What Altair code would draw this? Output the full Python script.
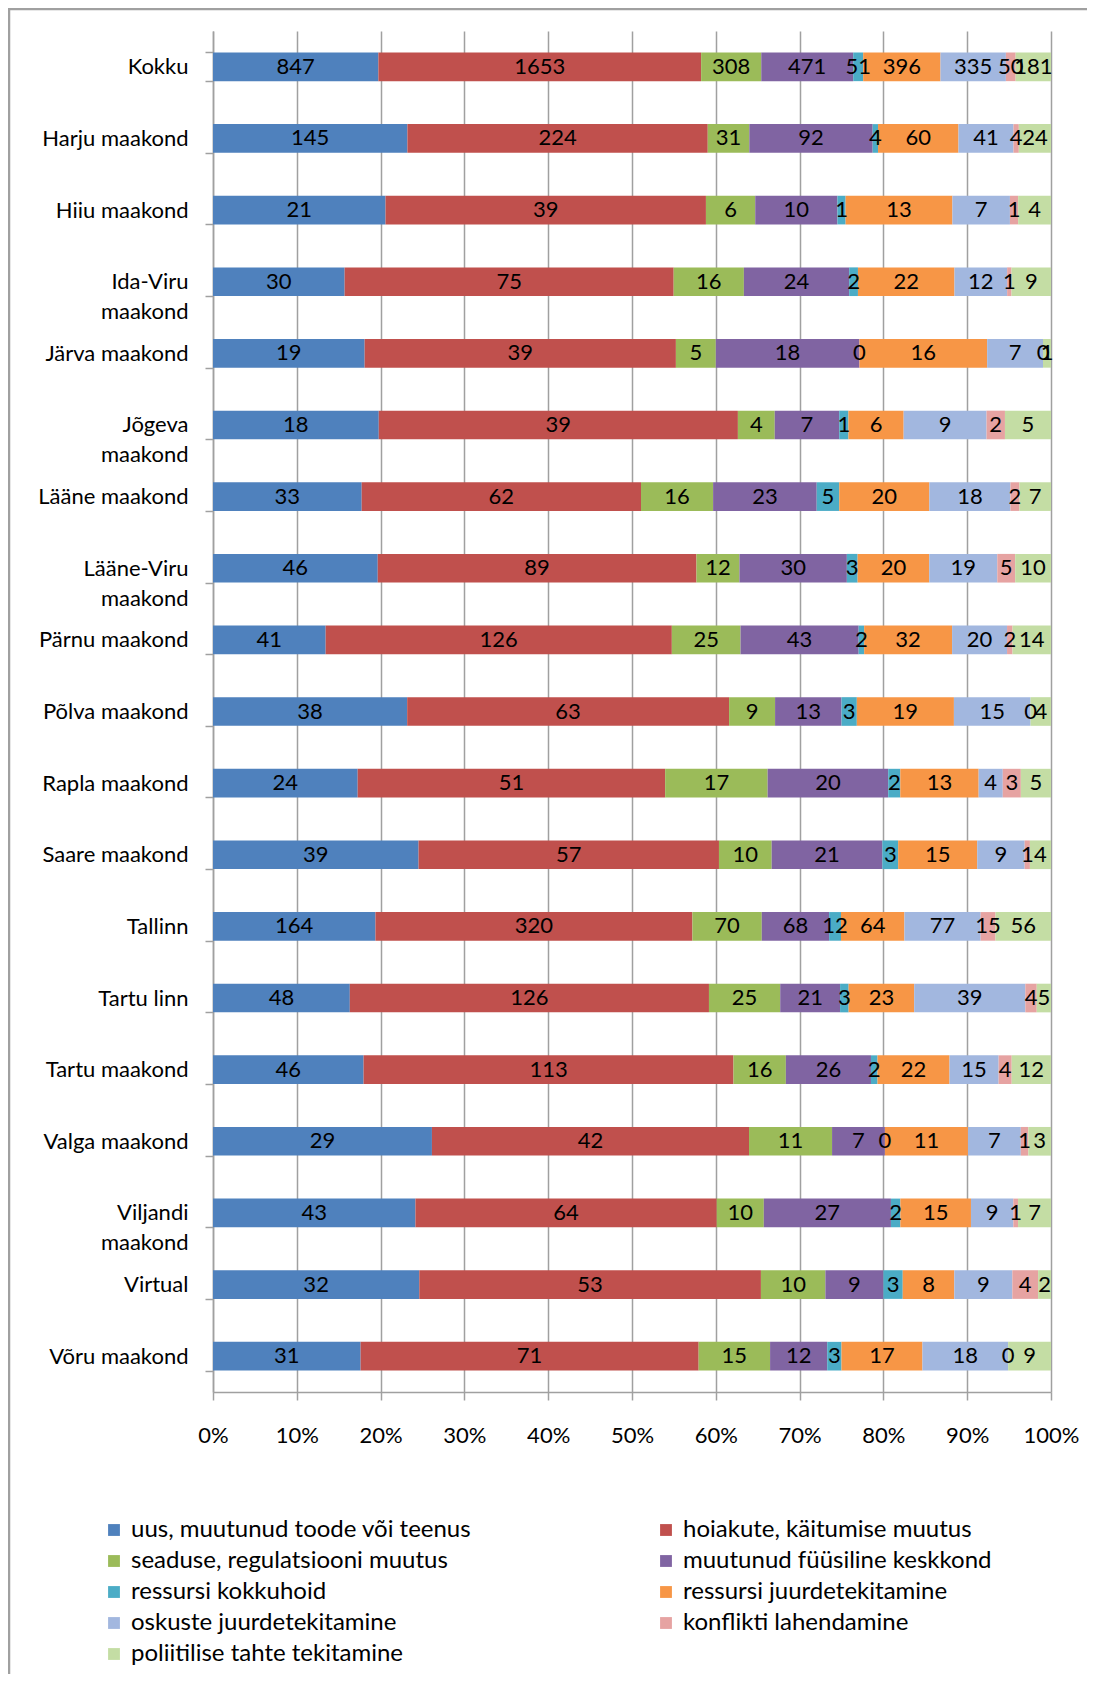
import altair as alt
import pandas as pd

regions = ["Kokku", "Harju maakond", "Hiiu maakond", "Ida-Viru\nmaakond", "Järva maakond",
           "Jõgeva\nmaakond", "Lääne maakond", "Lääne-Viru\nmaakond", "Pärnu maakond",
           "Põlva maakond", "Rapla maakond", "Saare maakond", "Tallinn", "Tartu linn",
           "Tartu maakond", "Valga maakond", "Viljandi\nmaakond", "Virtual", "Võru maakond"]

series = ["uus, muutunud toode või teenus", "hoiakute, käitumise muutus",
          "seaduse, regulatsiooni muutus", "muutunud füüsiline keskkond",
          "ressursi kokkuhoid", "ressursi juurdetekitamine",
          "oskuste juurdetekitamine", "konflikti lahendamine",
          "poliitilise tahte tekitamine"]

colors = ["#4F81BD", "#C0504D", "#9BBB59", "#8064A2", "#4BACC6", "#F79646",
          "#A2B7DF", "#E6A3A2", "#C4DDA4"]

uus = [847, 145, 21, 30, 19, 18, 33, 46, 41, 38, 24, 39, 164, 48, 46, 29, 43, 32, 31]
hoiakute = [1653, 224, 39, 75, 39, 39, 62, 89, 126, 63, 51, 57, 320, 126, 113, 42, 64, 53, 71]
seaduse = [308, 31, 6, 16, 5, 4, 16, 12, 25, 9, 17, 10, 70, 25, 16, 11, 10, 10, 15]
fyysiline = [471, 92, 10, 24, 18, 7, 23, 30, 43, 13, 20, 21, 68, 21, 26, 7, 27, 9, 12]
kokkuhoid = [51, 4, 1, 2, 0, 1, 5, 3, 2, 3, 2, 3, 12, 3, 2, 0, 2, 3, 3]
juurde = [396, 60, 13, 22, 16, 6, 20, 20, 32, 19, 13, 15, 64, 23, 22, 11, 15, 8, 17]
oskuste = [335, 41, 7, 12, 7, 9, 18, 19, 20, 15, 4, 9, 77, 39, 15, 7, 9, 9, 18]
konflikt = [50, 4, 1, 1, 0, 2, 2, 5, 2, 0, 3, 1, 15, 4, 4, 1, 1, 4, 0]
poliitiline = [181, 24, 4, 9, 1, 5, 7, 10, 14, 4, 5, 4, 56, 5, 12, 3, 7, 2, 9]

values = [uus, hoiakute, seaduse, fyysiline, kokkuhoid, juurde, oskuste, konflikt, poliitiline]

x_ticks = [0, 0.1, 0.2, 0.3, 0.4, 0.5, 0.6, 0.7, 0.8, 0.9, 1.0]

# legend fills column by column: reorder so it reads row by row (two columns)
legend_order = series[0::2] + series[1::2]

rows = []
for i, r in enumerate(regions):
    for j, s in enumerate(series):
        rows.append({"region": r, "series": s, "order": j, "value": values[j][i]})
df = pd.DataFrame(rows)

FONT = "Lato"
GRAY = "#a0a0a0"

base = alt.Chart(df).transform_stack(
    stack="value", groupby=["region"], as_=["x0", "x1"], offset="normalize",
    sort=[alt.SortField("order", order="ascending")]
).transform_calculate(mid="(datum.x0 + datum.x1) / 2")

y_enc = alt.Y("region:N", sort=regions, title=None,
              scale=alt.Scale(paddingInner=0.6, paddingOuter=0.3),
              axis=alt.Axis(labelExpr="split(datum.label, '\\n')", labelLineHeight=30,
                            tickBand="extent", tickSize=8, labelPadding=17,
                            labelLimit=400, grid=False))

bars = base.mark_bar().encode(
    x=alt.X("x0:Q", title=None, scale=alt.Scale(domain=[0, 1]),
            axis=alt.Axis(values=x_ticks, format=".0%", grid=True, labelPadding=25,
                          tickSize=8, labelFlush=False)),
    x2="x1:Q",
    y=y_enc,
    color=alt.Color("series:N", scale=alt.Scale(domain=series, range=colors),
                    legend=alt.Legend(title=None, orient="none", legendX=-111, legendY=1487,
                                      columns=2, columnPadding=182, rowPadding=7,
                                      values=legend_order,
                                      symbolType="square", symbolSize=140,
                                      symbolStrokeWidth=0, labelFont=FONT,
                                      labelFontSize=24, labelColor="black",
                                      labelOffset=5, padding=0, labelLimit=600)),
)

labels = base.mark_text(font=FONT, fontSize=22, color="black", baseline="middle").encode(
    x=alt.X("mid:Q", title=None),
    y=alt.Y("region:N", sort=regions),
    text=alt.Text("value:Q"),
)

frame_df = pd.DataFrame({"f": [0]})
frame_left = alt.Chart(frame_df).mark_rule(color=GRAY, strokeWidth=2.5).encode(
    x=alt.value(-204), y=alt.value(-24), y2=alt.value(1800))
frame_top = alt.Chart(frame_df).mark_rule(color=GRAY, strokeWidth=2.5).encode(
    x=alt.value(-205), x2=alt.value(1000), y=alt.value(-22))

chart = alt.layer(frame_left, frame_top, bars, labels).properties(
    width=838, height=1361,
    autosize=alt.AutoSizeParams(type="none"),
    padding={"left": 205, "top": 23, "right": 36, "bottom": 282},
).configure_view(stroke=None).configure_axis(
    labelFont=FONT, labelFontSize=22, labelColor="black",
    domainColor=GRAY, domainWidth=1.5, tickColor=GRAY, tickWidth=1.5,
    gridColor=GRAY, gridWidth=1.5,
)

chart.save("out.html", embed_options={"renderer": "svg", "actions": False})
